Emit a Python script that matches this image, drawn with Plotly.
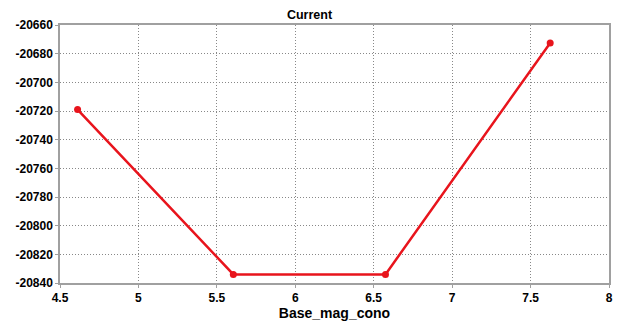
import plotly.graph_objects as go

x_vals = [4.612, 5.605, 6.575, 7.625]
y_vals = [-20719, -20834, -20834, -20672.5]
x_ticks = [4.5, 5, 5.5, 6, 6.5, 7, 7.5, 8]
y_ticks = [-20840, -20820, -20800, -20780, -20760, -20740, -20720, -20700, -20680, -20660]

fig = go.Figure()
fig.add_trace(go.Scatter(x=x_vals, y=y_vals, mode="lines+markers",
                         line=dict(color="#e8141c", width=2.5),
                         marker=dict(color="#e8141c", size=7)))

font = dict(family="Liberation Sans", size=12, color="black")
fig.update_layout(
    width=619, height=321,
    margin=dict(l=60, r=10, t=25, b=38),
    paper_bgcolor="white", plot_bgcolor="white",
    showlegend=False,
    title=dict(text="<b>Current</b>", x=0.5, xanchor="center", y=0.953, yanchor="middle",
               font=dict(family="Liberation Sans", size=12.5, color="black")),
    font=font,
)
fig.update_xaxes(range=[4.5, 8], tickvals=x_ticks, ticktext=[f"<b>{v:g}</b>" for v in x_ticks],
                 showgrid=True, gridcolor="#888", griddash="1px,2px", gridwidth=1,
                 showline=True, linecolor="#a0a0a0", linewidth=1.5, mirror=True,
                 ticks="outside", ticklen=3, tickcolor="#a0a0a0",
                 title=dict(text="<b>Base_mag_cono</b>", standoff=0, font=dict(size=14)),
                 zeroline=False, automargin=False)
fig.update_yaxes(range=[-20840, -20660], tickvals=y_ticks, ticktext=[f"<b>{v}</b>" for v in y_ticks],
                 showgrid=True, gridcolor="#888", griddash="1px,2px", gridwidth=1,
                 showline=True, linecolor="#a0a0a0", linewidth=1.5, mirror=True,
                 ticks="outside", ticklen=3, tickcolor="#a0a0a0",
                 zeroline=False, automargin=False)
fig.write_html("out.html", config={"displayModeBar": False},
               post_script="document.body.style.margin='0';document.body.style.overflow='hidden';")
